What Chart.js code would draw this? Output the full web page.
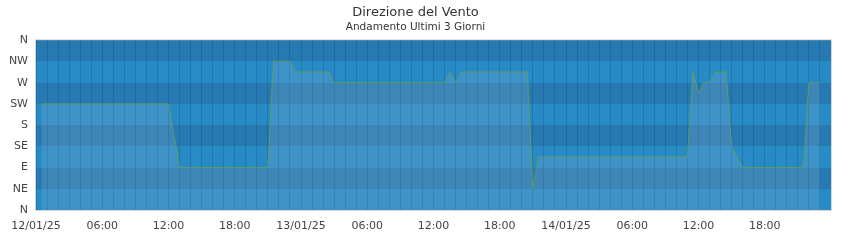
<!DOCTYPE html>
<html>
<head>
<meta charset="utf-8">
<script src="https://cdn.jsdelivr.net/npm/chart.js@4/dist/chart.umd.min.js"></script>
<style>
  html, body { margin: 0; padding: 0; background: #fff; }
  #wrap { width: 850px; height: 240px; }
</style>
</head>
<body>
<div id="wrap"><canvas id="wind-chart"></canvas></div>
<script>
// hours since 12/01/25 00:00, one reading every 30 minutes
const hours = [
  0.5, 1, 1.5, 2, 2.5, 3, 3.5, 4, 4.5, 5, 5.5, 6, 6.5, 7, 7.5, 8, 8.5, 9, 9.5, 10, 10.5, 11, 11.5, 12,
  12.5, 13, 13.5, 14, 14.5, 15, 15.5, 16, 16.5, 17, 17.5, 18, 18.5, 19, 19.5, 20, 20.5, 21, 21.5, 22,
  22.5, 23, 23.5, 24, 24.5, 25, 25.5, 26, 26.5, 27, 27.5, 28, 28.5, 29, 29.5, 30, 30.5, 31, 31.5, 32,
  32.5, 33, 33.5, 34, 34.5, 35, 35.5, 36, 36.5, 37, 37.5, 38, 38.5, 39, 39.5, 40, 40.5, 41, 41.5, 42,
  42.5, 43, 43.5, 44, 44.5, 45, 45.5, 46, 46.5, 47, 47.5, 48, 48.5, 49, 49.5, 50, 50.5, 51, 51.5, 52,
  52.5, 53, 53.5, 54, 54.5, 55, 55.5, 56, 56.5, 57, 57.5, 58, 58.5, 59, 59.5, 60, 60.5, 61, 61.5, 62,
  62.5, 63, 63.5, 64, 64.5, 65, 65.5, 66, 66.5, 67, 67.5, 68, 68.5, 69, 69.5, 70, 70.5, 71
];

// wind direction in degrees (0 = N, 90 = E, 180 = S, 270 = W)
const direction = [
  225, 225, 225, 225, 225, 225, 225, 225, 225, 225, 225, 225, 225, 225, 225, 225, 225, 225, 225, 225, 225, 225, 225, 225,
  157.5, 90, 90, 90, 90, 90, 90, 90, 90, 90, 90, 90, 90, 90, 90, 90, 90, 90, 315, 315,
  315, 315, 292.5, 292.5, 292.5, 292.5, 292.5, 292.5, 292.5, 270, 270, 270, 270, 270, 270, 270, 270, 270, 270, 270,
  270, 270, 270, 270, 270, 270, 270, 270, 270, 270, 292.5, 270, 292.5, 292.5, 292.5, 292.5, 292.5, 292.5, 292.5, 292.5,
  292.5, 292.5, 292.5, 292.5, 292.5, 45, 112.5, 112.5, 112.5, 112.5, 112.5, 112.5, 112.5, 112.5, 112.5, 112.5, 112.5, 112.5, 112.5, 112.5,
  112.5, 112.5, 112.5, 112.5, 112.5, 112.5, 112.5, 112.5, 112.5, 112.5, 112.5, 112.5, 112.5, 112.5, 292.5, 247.5, 270, 270, 292.5, 292.5,
  292.5, 135, 112.5, 90, 90, 90, 90, 90, 90, 90, 90, 90, 90, 90, 90, 270, 270, 270
];

const xTickLabels = [
  "12/01/25", "06:00", "12:00", "18:00",
  "13/01/25", "06:00", "12:00", "18:00",
  "14/01/25", "06:00", "12:00", "18:00"
];
const yTickLabels = ["N", "NE", "E", "SE", "S", "SW", "W", "NW", "N"];

// alternating background bands, bottom (N-NE) to top (NW-N)
const bandColors = ["#278bc6", "#2779b2"];

const bandsPlugin = {
  id: "bands",
  beforeDraw(chart) {
    const { ctx, chartArea, scales } = chart;
    const y = scales.y;
    ctx.save();
    for (let i = 0; i < yTickLabels.length - 1; i++) {
      const top = Math.round(y.getPixelForValue((i + 1) * 45));
      const bottom = Math.round(y.getPixelForValue(i * 45));
      ctx.fillStyle = bandColors[i % 2];
      ctx.fillRect(chartArea.left, top, chartArea.right - chartArea.left, bottom - top);
    }
    ctx.restore();
  },
  afterDraw(chart) {
    const { ctx, chartArea } = chart;
    ctx.save();
    ctx.strokeStyle = "#d6d6d6";
    ctx.lineWidth = 1;
    ctx.strokeRect(chartArea.left - 0.5, chartArea.top - 0.5,
      chartArea.right - chartArea.left + 1, chartArea.bottom - chartArea.top + 1);
    ctx.restore();
  }
};

const tickFont = { family: "DejaVu Sans", size: 11 };

new Chart(document.getElementById("wind-chart"), {
  type: "line",
  data: {
    datasets: [
      {
        label: "Direzione",
        data: hours.map((h, i) => ({ x: h, y: direction[i] })),
        borderColor: "#5e9b68",
        borderWidth: 1,
        backgroundColor: "rgba(175, 195, 215, 0.17)",
        fill: "origin",
        pointRadius: 0,
        tension: 0
      }
    ]
  },
  options: {
    responsive: true,
    maintainAspectRatio: false,
    animation: false,
    layout: { padding: { left: 0, right: 19, top: 0, bottom: 0 } },
    plugins: {
      legend: { display: false },
      tooltip: { enabled: false },
      title: {
        display: true,
        text: "Direzione del Vento",
        color: "#333",
        font: { family: "DejaVu Sans", size: 13, weight: "normal" },
        padding: { top: 5, bottom: 0 }
      },
      subtitle: {
        display: true,
        text: "Andamento Ultimi 3 Giorni",
        color: "#333",
        font: { family: "DejaVu Sans", size: 10.5 },
        padding: { top: 0, bottom: 7 }
      }
    },
    scales: {
      x: {
        type: "linear",
        min: 0,
        max: 72,
        afterFit: (axis) => { axis.height = 30; },
        ticks: {
          stepSize: 1,
          autoSkip: false,
          maxRotation: 0,
          minRotation: 0,
          padding: 10,
          color: "#444",
          font: tickFont,
          callback: (value) => (value % 6 === 0 && xTickLabels[value / 6]) ? xTickLabels[value / 6] : ""
        },
        grid: {
          color: "rgba(20, 60, 110, 0.28)",
          drawTicks: false
        },
        border: { display: false }
      },
      y: {
        min: 0,
        max: 360,
        afterFit: (axis) => { axis.width = 36; },
        ticks: {
          stepSize: 45,
          padding: 8,
          color: "#444",
          font: tickFont,
          callback: (value) => yTickLabels[value / 45]
        },
        grid: { display: false, drawTicks: false },
        border: { display: false }
      }
    }
  },
  plugins: [bandsPlugin]
});
</script>
</body>
</html>
